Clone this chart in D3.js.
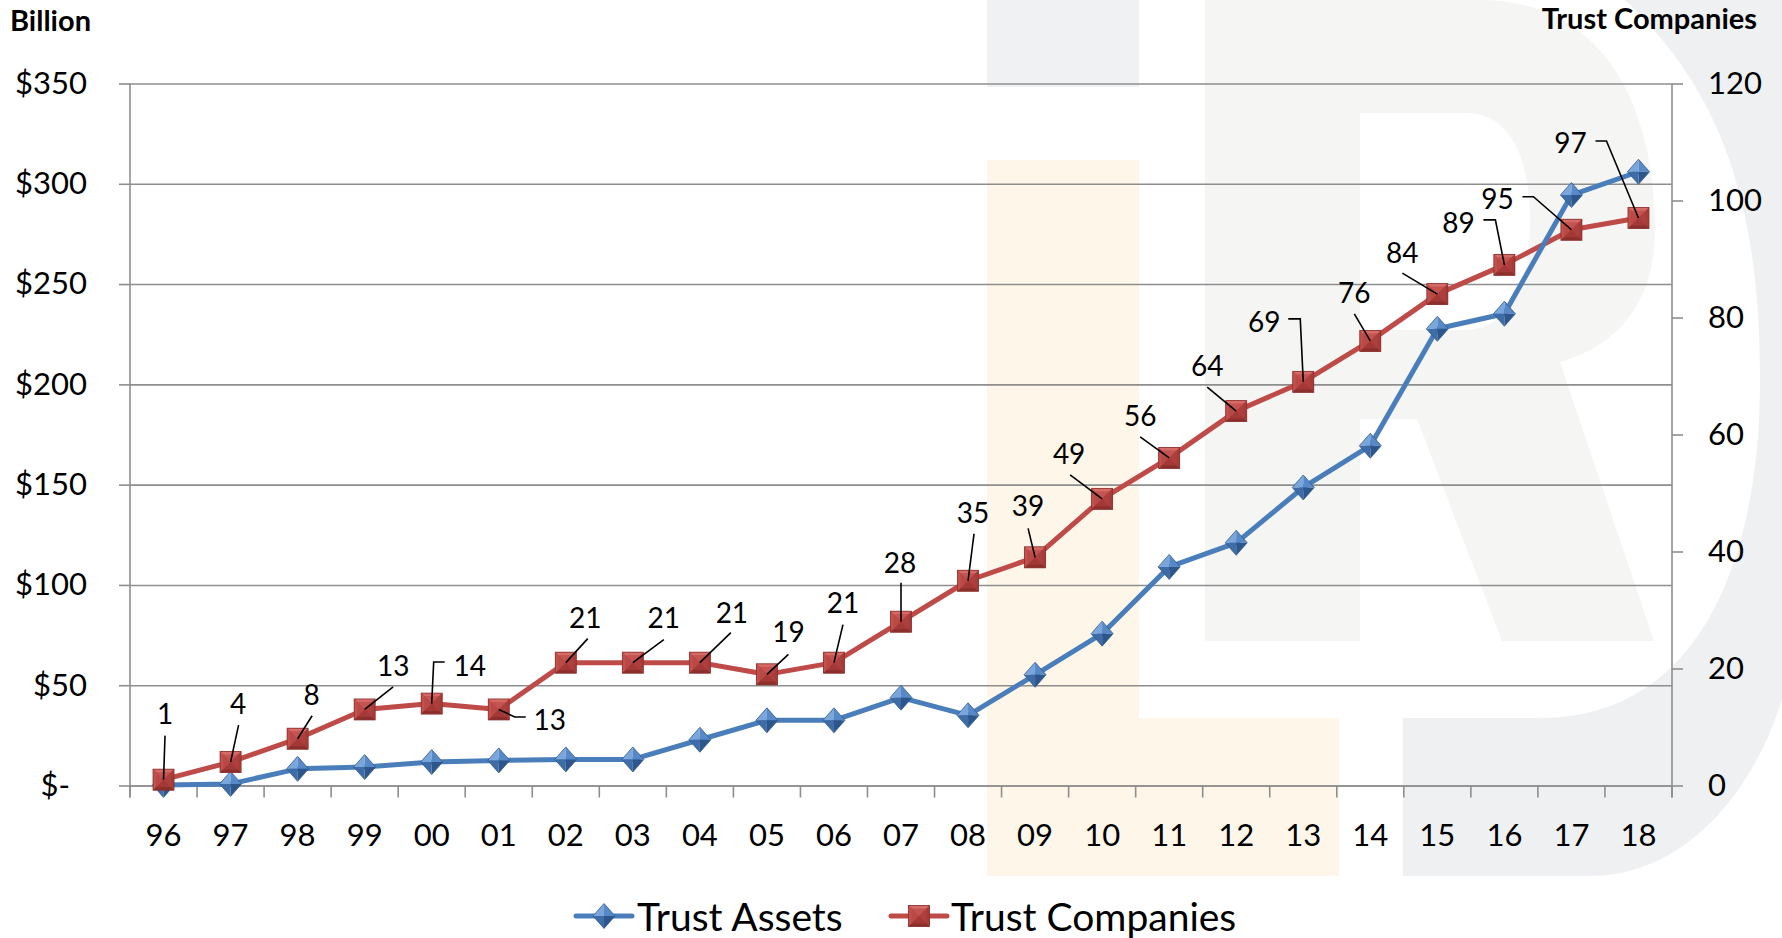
<!DOCTYPE html>
<html>
<head>
<meta charset="utf-8">
<script src="https://cdn.jsdelivr.net/npm/d3@7"></script>
<style>
  html, body { margin: 0; padding: 0; background: #ffffff; }
  svg { display: block; }
  text { font-family: Lato, "Open Sans", sans-serif; fill: #000; }
</style>
</head>
<body>
<svg id="chart" width="1782" height="938"></svg>
<script>
// ---------- data ----------
const years = ["96","97","98","99","00","01","02","03","04","05","06","07","08","09","10","11","12","13","14","15","16","17","18"];
const trustAssets = [0.3, 0.8, 8.3, 9.2, 11.7, 12.5, 13, 13, 22.8, 32.5, 32.5, 43.8, 35, 55.2, 75.7, 109, 121, 148.6, 169.4, 227.7, 235.2, 294.4, 306];
const trustCompanies = [1, 4, 8, 13, 14, 13, 21, 21, 21, 19, 21, 28, 35, 39, 49, 56, 64, 69, 76, 84, 89, 95, 97];
const leftTicks = [0, 50, 100, 150, 200, 250, 300, 350];
const rightTicks = [0, 20, 40, 60, 80, 100, 120];
const seriesNames = ["Trust Assets", "Trust Companies"];
const leftTitle = "Billion";
const rightTitle = "Trust Companies";

// label placement (text offset and leader anchor, relative to marker; optional elbow point)
const labelPlacement = [
  {t:[1.5,-67], a:[1.5,-44]},
  {t:[7.5,-59], a:[8,-37]},
  {t:[14,-45], a:[14.5,-23]},
  {t:[28.5,-44.5], a:[28.5,-22.5]},
  {t:[38,-39], e:[13,-41.6], a:[2,-41.6]},
  {t:[51,10], e:[27,7.5], a:[16,7.5]},
  {t:[19.5,-46], a:[22,-24]},
  {t:[31,-46], a:[31,-23]},
  {t:[32,-51], a:[31,-30]},
  {t:[21.5,-43], a:[21.5,-20]},
  {t:[9,-61], a:[9,-38]},
  {t:[-1,-60], a:[0,-39]},
  {t:[5,-69], a:[6,-47]},
  {t:[-7,-52], a:[-7,-29]},
  {t:[-33,-46], a:[-32,-24]},
  {t:[-29,-43], a:[-29,-21]},
  {t:[-29,-46], a:[-29,-24]},
  {t:[-39,-61], e:[-15,-63], a:[-3,-63]},
  {t:[-16,-49], a:[-16,-27]},
  {t:[-35,-42], a:[-35,-21]},
  {t:[-46,-43], e:[-21,-45], a:[-9,-45]},
  {t:[-74,-32], e:[-49,-33], a:[-38,-33]},
  {t:[-68,-76], e:[-43,-77], a:[-32,-77]}
];

// ---------- layout ----------
const svg = d3.select("#chart");
const L = 130, R = 1672, T = 83.5, B = 785.5;
const blue = "#4a7ebb", red = "#be4b48", gridCol = "#8e8e8e";

// ---------- watermark ----------
const wm = svg.append("g");
wm.append("rect").attr("x",987).attr("y",0).attr("width",152).attr("height",87).attr("fill","#f0f1f3");
wm.append("path").attr("d","M987,160 H1139 V718 H1339 V876 H987 Z").attr("fill","#fef6e9");
wm.append("path")
  .attr("fill-rule","evenodd")
  .attr("fill","#f5f5f4")
  .attr("d","M1205,0 H1480 C1600,0 1655,100 1655,230 C1655,300 1620,345 1560,362 L1654,641 H1502 L1417,419 H1360 V641 H1205 Z " +
            "M1360,113 H1465 C1512,113 1530,160 1530,222 C1530,290 1508,330 1462,330 H1360 Z");
wm.append("path")
  .attr("fill","#eff0f2")
  .attr("d","M1403,718 H1540 C1700,718 1760,560 1760,380 C1760,200 1720,90 1625,0 H1782 V700 C1750,800 1680,876 1590,876 H1403 Z");

// ---------- scales ----------
const x = d3.scaleBand().domain(years).range([L, R]).padding(0);
const cx = d => x(d) + x.bandwidth() / 2;
const yL = d3.scaleLinear().domain([0, 350]).range([B, T]);
const yR = d3.scaleLinear().domain([0, 120]).range([B, T]);

// gridlines
const grid = svg.append("g").attr("transform", `translate(${L},0)`)
  .call(d3.axisLeft(yL).tickValues(leftTicks).tickSize(-(R - L)).tickFormat(""));
grid.select(".domain").remove();
grid.selectAll("line").attr("stroke", gridCol).attr("stroke-width", 1.6);

// left axis
const fmtL = v => v === 0 ? "$-" : "$" + v;
const axL = svg.append("g").attr("transform", `translate(${L},0)`)
  .call(d3.axisLeft(yL).tickValues(leftTicks).tickSize(11).tickSizeOuter(0).tickPadding(32).tickFormat(fmtL));
axL.select(".domain").remove();
axL.selectAll("line").attr("stroke", gridCol).attr("stroke-width", 1.6);
axL.selectAll("text").attr("font-family","Lato").attr("font-size", 31).attr("fill","#000")
  .attr("dx", d => d === 0 ? -17 : 0);

// right axis
const axR = svg.append("g").attr("transform", `translate(${R},0)`)
  .call(d3.axisRight(yR).tickValues(rightTicks).tickSize(11).tickSizeOuter(0).tickPadding(25));
axR.select(".domain").remove();
axR.selectAll("line").attr("stroke", gridCol).attr("stroke-width", 1.6);
axR.selectAll("text").attr("font-family","Lato").attr("font-size", 31).attr("fill","#000");

// vertical axis lines
svg.append("line").attr("x1",L).attr("x2",L).attr("y1",T).attr("y2",B+12).attr("stroke",gridCol).attr("stroke-width",1.6);
svg.append("line").attr("x1",R).attr("x2",R).attr("y1",T).attr("y2",B+12).attr("stroke",gridCol).attr("stroke-width",1.6);

// bottom axis (labels) + boundary ticks
const axB = svg.append("g").attr("transform", `translate(0,${B})`)
  .call(d3.axisBottom(x).tickSize(0).tickPadding(38));
axB.select(".domain").attr("stroke", gridCol).attr("stroke-width", 1.6);
axB.selectAll("text").attr("font-family","Lato").attr("font-size", 31).attr("fill","#000");
svg.append("g").selectAll("line").data(years.concat(["end"])).join("line")
  .attr("x1", (d,i) => i < years.length ? x(d) : R)
  .attr("x2", (d,i) => i < years.length ? x(d) : R)
  .attr("y1", B).attr("y2", B + 12)
  .attr("stroke", gridCol).attr("stroke-width", 1.6);

// titles
svg.append("text").attr("x", 10).attr("y", 31).attr("font-size", 29).attr("font-weight", 700).text(leftTitle);
svg.append("text").attr("x", 1757).attr("y", 29).attr("text-anchor","end").attr("font-size", 29).attr("font-weight", 700).text(rightTitle);

// ---------- markers ----------
function diamond(g, px, py, s) {
  const w = 11 * s, h = 12.5 * s;
  const facets = [
    [[px,py],[px,py-h],[px-w,py], "#7aa6dc"],
    [[px,py],[px,py-h],[px+w,py], "#5689c6"],
    [[px,py],[px-w,py],[px,py+h], "#3d6ca6"],
    [[px,py],[px+w,py],[px,py+h], "#2d578c"]
  ];
  facets.forEach(f => g.append("path").attr("d", d3.line()(f.slice(0,3)) + "Z").attr("fill", f[3]));
  g.append("path").attr("d", `M${px},${py-h}L${px+w},${py}L${px},${py+h}L${px-w},${py}Z`)
    .attr("fill","none").attr("stroke","#2f5a8e").attr("stroke-width",0.8);
}
function square(g, px, py, s) {
  const h = 10.5 * s, i = 3 * s;
  g.append("rect").attr("x",px-h).attr("y",py-h).attr("width",2*h).attr("height",2*h).attr("fill","#b8403d");
  const facets = [
    [[px-h,py-h],[px+h,py-h],[px,py], "#d66a66"],
    [[px-h,py-h],[px-h,py+h],[px,py], "#c2504c"],
    [[px+h,py-h],[px+h,py+h],[px,py], "#a63c39"],
    [[px-h,py+h],[px+h,py+h],[px,py], "#8c2f2c"]
  ];
  facets.forEach(f => g.append("path").attr("d", d3.line()(f.slice(0,3)) + "Z").attr("fill", f[3]));
  g.append("rect").attr("x",px-h+i).attr("y",py-h+i).attr("width",2*(h-i)).attr("height",2*(h-i))
    .attr("fill","#b4423f").attr("opacity",0.55);
  g.append("rect").attr("x",px-h).attr("y",py-h).attr("width",2*h).attr("height",2*h)
    .attr("fill","none").attr("stroke","#8a302d").attr("stroke-width",0.8);
}

// ---------- series ----------
const lineA = d3.line().x((d,i) => cx(years[i])).y(d => yL(d));
const lineC = d3.line().x((d,i) => cx(years[i])).y(d => yR(d));
svg.append("path").datum(trustCompanies).attr("d", lineC).attr("fill","none").attr("stroke", red).attr("stroke-width", 5).attr("stroke-linejoin","round");
svg.append("path").datum(trustAssets).attr("d", lineA).attr("fill","none").attr("stroke", blue).attr("stroke-width", 5).attr("stroke-linejoin","round");

const mA = svg.append("g");
trustAssets.forEach((v,i) => diamond(mA, cx(years[i]), yL(v), 1));
const mC = svg.append("g");
trustCompanies.forEach((v,i) => square(mC, cx(years[i]), yR(v), 1));

// ---------- data labels ----------
const lab = svg.append("g");
trustCompanies.forEach((v,i) => {
  const px = cx(years[i]), py = yR(v), p = labelPlacement[i];
  const pts = [];
  if (p.e) pts.push([px + p.e[0], py + p.e[1]]);
  pts.push([px + p.a[0], py + p.a[1]]);
  pts.push([px, py]);
  lab.append("path").attr("d", d3.line()(pts)).attr("fill","none").attr("stroke","#000").attr("stroke-width",1.6);
  lab.append("text").attr("x", px + p.t[0]).attr("y", py + p.t[1])
    .attr("text-anchor","middle").attr("dominant-baseline","central")
    .attr("font-size", 28).text(v);
});

// ---------- legend ----------
const lg = svg.append("g");
const ly = 916;
lg.append("line").attr("x1",576).attr("x2",632).attr("y1",ly).attr("y2",ly).attr("stroke",blue).attr("stroke-width",5).attr("stroke-linecap","round");
diamond(lg, 604, ly, 1);
lg.append("text").attr("x",637).attr("y",ly).attr("dominant-baseline","central").attr("font-size",39).text(seriesNames[0]);
lg.append("line").attr("x1",891).attr("x2",947).attr("y1",ly).attr("y2",ly).attr("stroke",red).attr("stroke-width",5).attr("stroke-linecap","round");
square(lg, 919, ly, 1);
lg.append("text").attr("x",951).attr("y",ly).attr("dominant-baseline","central").attr("font-size",39).text(seriesNames[1]);
</script>
</body>
</html>
